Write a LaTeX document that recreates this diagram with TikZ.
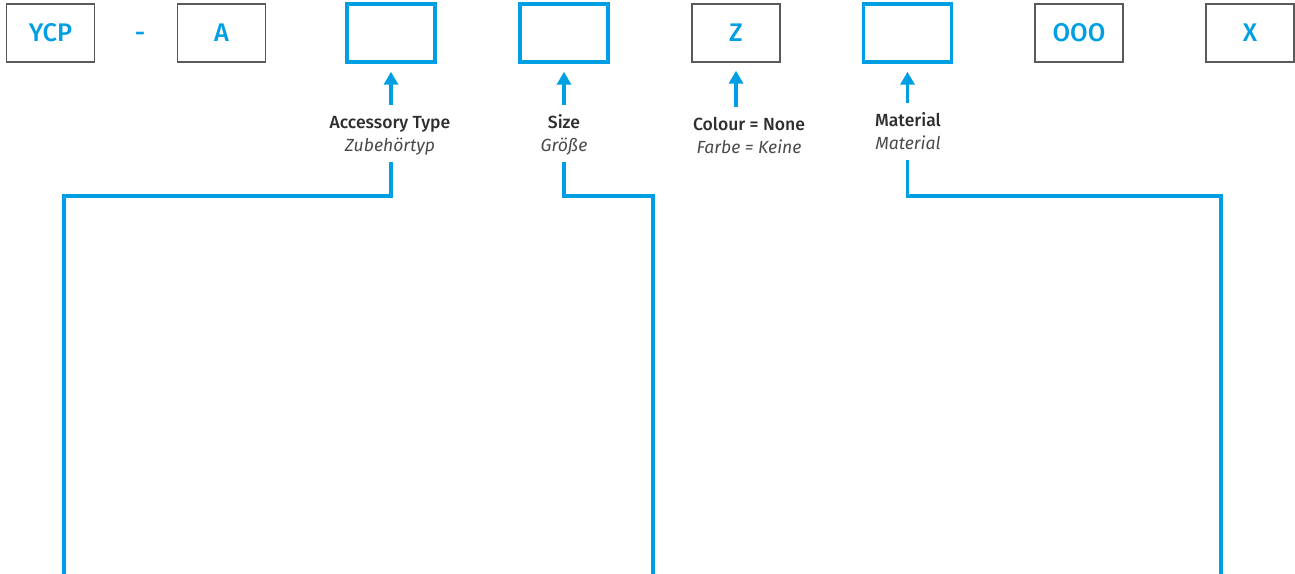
\documentclass[tikz,border=0pt]{standalone}
\usepackage{fontspec}
\setmainfont{Fira Sans}[BoldFont={Fira Sans Medium}]
\usetikzlibrary{arrows.meta}
\definecolor{codeBlue}{HTML}{009FE3}
\definecolor{boxGrey}{HTML}{5A5A5A}
\definecolor{txtDark}{HTML}{2E2E2E}
\definecolor{txtGrey}{HTML}{4A4A4A}

\begin{document}
\begin{tikzpicture}[x=0.02cm,y=-0.02cm,
  cell/.style={draw=boxGrey,line width=0.8pt,minimum width=1.76cm,minimum height=1.16cm,
    inner sep=0pt,font=\fontsize{14.5}{14.5}\selectfont\bfseries,text=codeBlue},
  slot/.style={cell,draw=codeBlue,line width=2pt},
  lbl/.style={align=center,inner sep=0pt,anchor=north,font=\fontsize{10}{13}\selectfont,text=txtDark},
  up/.style={draw=codeBlue,line width=2pt,-{Triangle[width=0.28cm,length=0.26cm]},
    shorten <=0.14cm,shorten >=0.16cm},
  lnk/.style={draw=codeBlue,line width=2pt,shorten <=0.08cm},
]
\useasboundingbox (0,0) rectangle (1295,574);

% ---- code cells ---------------------------------------------------------
\node[cell] (ycp) at (50.5,33)  {YCP};
\node[font=\fontsize{14.5}{14.5}\selectfont\bfseries,text=codeBlue] (dash) at (140,37) {-};
\node[cell] (typ) at (221.5,33) {A};
\node[slot] (acc) at (391,33)   {};
\node[slot] (siz) at (564,33)   {};
\node[cell] (col) at (736,33)   {Z};
\node[slot] (mat) at (907.5,33) {};
\node[cell] (seq) at (1079,33)  {OOO};
\node[cell] (var) at (1250,33)  {X};

% ---- captions -----------------------------------------------------------
\node[lbl] (lblAcc) at (390,112) {\strut\textbf{Accessory Type}\\\textcolor{txtGrey}{\itshape Zubehörtyp\strut}};
\node[lbl] (lblSiz) at (564,112) {\strut\textbf{Size}\\\textcolor{txtGrey}{\itshape Größe\strut}};
\node[lbl] (lblCol) at (749,114) {\strut\textbf{Colour = None}\\\textcolor{txtGrey}{\itshape Farbe = Keine\strut}};
\node[lbl] (lblMat) at (908,110) {\strut\textbf{Material}\\\textcolor{txtGrey}{\itshape Material\strut}};

% ---- arrows up to the cells ---------------------------------------------
\foreach \b/\l in {acc/lblAcc,siz/lblSiz,col/lblCol,mat/lblMat}
  \draw[up] (\b.south |- \l.north) -- (\b.south);

% ---- leader lines down to the tables ------------------------------------
\coordinate (accEnd) at (64,574);
\coordinate (sizEnd) at (653,574);
\coordinate (matEnd) at (1221,574);
\draw[lnk] (acc.south |- lblAcc.south) -- (acc.south |- 0,196) -| (accEnd);
\draw[lnk] (siz.south |- lblSiz.south) -- (siz.south |- 0,196) -| (sizEnd);
\draw[lnk] (mat.south |- lblMat.south) -- (mat.south |- 0,196) -| (matEnd);

\end{tikzpicture}
\end{document}
